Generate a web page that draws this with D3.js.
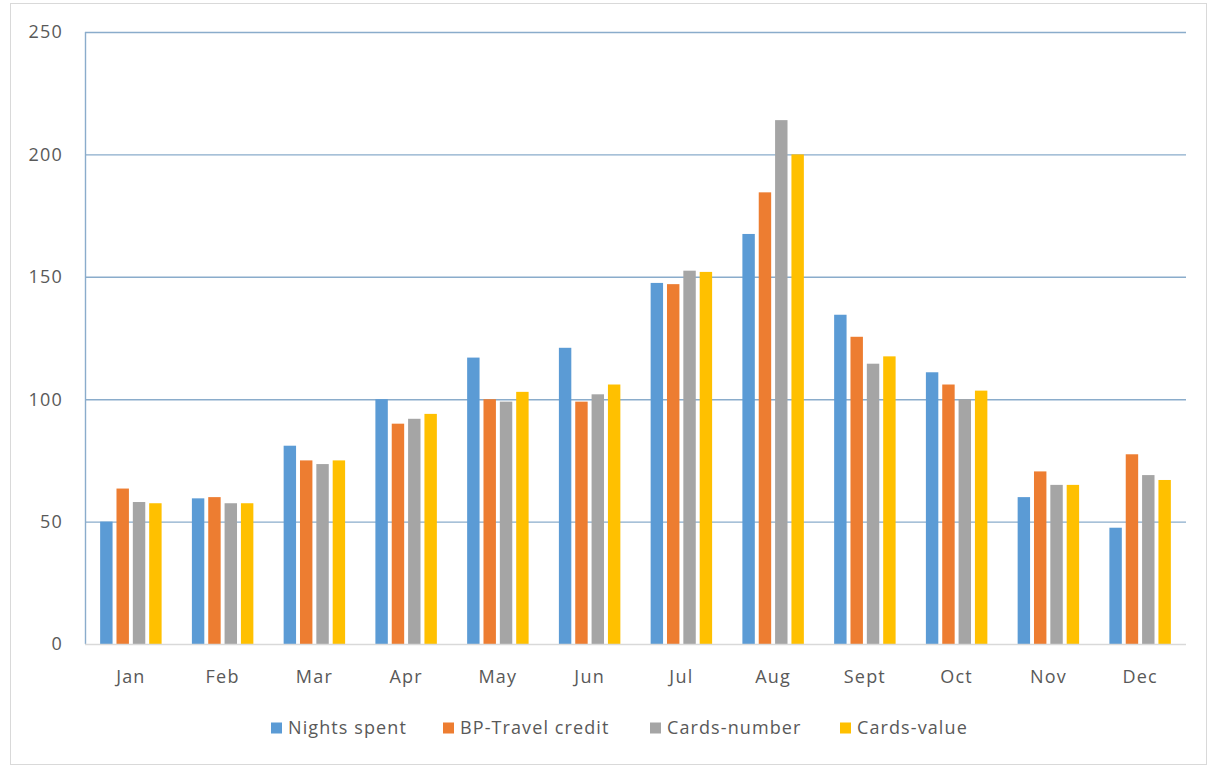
<!DOCTYPE html>
<html>
<head>
<meta charset="utf-8">
<script src="https://cdn.jsdelivr.net/npm/d3@7"></script>
<style>
  html, body { margin: 0; padding: 0; background: #fff; }
  svg { display: block; font-family: "Open Sans", "Segoe UI", sans-serif; }
</style>
</head>
<body>
<svg id="chart" width="1208" height="766"></svg>
<script>
// Monthly indices for four tourism indicators
const months = ["Jan", "Feb", "Mar", "Apr", "May", "Jun", "Jul", "Aug", "Sept", "Oct", "Nov", "Dec"];
const seriesNames = ["Nights spent", "BP-Travel credit", "Cards-number", "Cards-value"];
const nightsSpent   = [50, 59.5, 81, 100, 117, 121, 147.5, 167.5, 134.5, 111, 60, 47.5];
const travelCredit  = [63.5, 60, 75, 90, 100, 99, 147, 184.5, 125.5, 106, 70.5, 77.5];
const cardsNumber   = [58, 57.5, 73.5, 92, 99, 102, 152.5, 214, 114.5, 100, 65, 69];
const cardsValue    = [57.5, 57.5, 75, 94, 103, 106, 152, 200, 117.5, 103.5, 65, 67];
const yTicks = [0, 50, 100, 150, 200, 250];
const colors = ["#5b9bd5", "#ed7d31", "#a5a5a5", "#ffc000"];

const seriesValues = [nightsSpent, travelCredit, cardsNumber, cardsValue];

const svg = d3.select("#chart");
const plot = { left: 85, right: 1186, top: 32, bottom: 644 };
const textColor = "#595959";

// outer frame
svg.append("rect")
  .attr("x", 10.5).attr("y", 3.5)
  .attr("width", 1196).attr("height", 761)
  .attr("fill", "#fff").attr("stroke", "#d9d9d9");

const y = d3.scaleLinear().domain([0, 250]).range([plot.bottom, plot.top]);
const x0 = d3.scaleBand().domain(months).range([plot.left, plot.right])
  .paddingInner(0.33).paddingOuter(0.165);
const x1 = d3.scaleBand().domain(seriesNames).range([0, x0.bandwidth()]).paddingInner(0.24);

// horizontal gridlines
svg.append("g").selectAll("line")
  .data(yTicks.filter(d => d > 0))
  .join("line")
  .attr("x1", plot.left).attr("x2", plot.right)
  .attr("y1", d => y(d) + 0.5).attr("y2", d => y(d) + 0.5)
  .attr("stroke", "#8aaccb").attr("stroke-width", 1.4);

// left vertical line
svg.append("line")
  .attr("x1", plot.left + 0.5).attr("x2", plot.left + 0.5)
  .attr("y1", plot.top).attr("y2", plot.bottom)
  .attr("stroke", "#8aaccb").attr("stroke-width", 1.4);

// y tick labels
svg.append("g").selectAll("text")
  .data(yTicks)
  .join("text")
  .attr("x", 63).attr("y", d => y(d))
  .attr("dy", "0.36em")
  .attr("text-anchor", "end")
  .attr("font-size", 18).attr("letter-spacing", 1.2)
  .attr("fill", textColor)
  .text(d => d);

// bars
const groups = svg.append("g").selectAll("g")
  .data(months)
  .join("g")
  .attr("transform", m => `translate(${x0(m)},0)`);

groups.selectAll("rect")
  .data((m, i) => seriesNames.map((s, k) => ({ s, k, v: seriesValues[k][i] })))
  .join("rect")
  .attr("x", d => x1(d.s))
  .attr("width", x1.bandwidth())
  .attr("y", d => y(d.v))
  .attr("height", d => y(0) - y(d.v))
  .attr("fill", d => colors[d.k]);

// category axis line
svg.append("line")
  .attr("x1", plot.left).attr("x2", plot.right)
  .attr("y1", plot.bottom + 0.5).attr("y2", plot.bottom + 0.5)
  .attr("stroke", "#d9d9d9").attr("stroke-width", 1.3);

// month labels
svg.append("g").selectAll("text")
  .data(months)
  .join("text")
  .attr("x", m => x0(m) + x0.bandwidth() / 2)
  .attr("y", 683)
  .attr("text-anchor", "middle")
  .attr("font-size", 18).attr("letter-spacing", 1.2)
  .attr("fill", textColor)
  .text(m => m);

// legend
const legendStarts = [271, 443, 650, 840];
const legend = svg.append("g").selectAll("g")
  .data(seriesNames)
  .join("g")
  .attr("transform", (d, i) => `translate(${legendStarts[i]},728)`);
legend.append("rect")
  .attr("x", 0).attr("y", -5.5).attr("width", 11).attr("height", 11)
  .attr("fill", (d, i) => colors[i]);
legend.append("text")
  .attr("x", 17).attr("y", 0).attr("dy", "0.36em")
  .attr("font-size", 18).attr("letter-spacing", 1.1)
  .attr("fill", textColor)
  .text(d => d);
</script>
</body>
</html>
